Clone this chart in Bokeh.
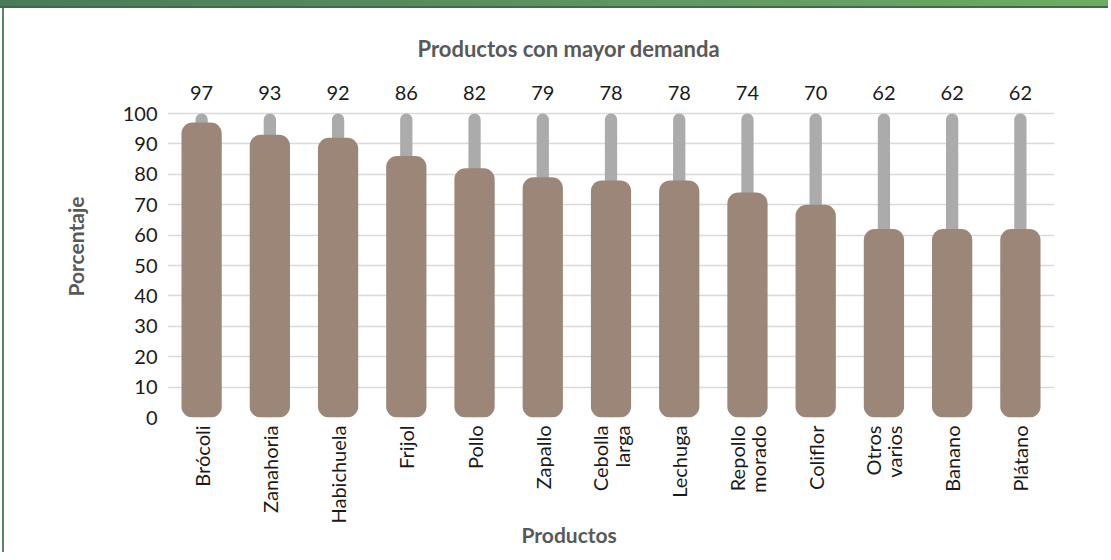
import math
from bokeh.plotting import figure
from bokeh.models import (ColumnDataSource, FactorRange, Range1d, FixedTicker, Title, Div)
from bokeh.layouts import column
from bokeh.core.properties import value
from bokeh.embed import file_html
from bokeh.resources import INLINE

# ---- data ----
productos = ["Brócoli", "Zanahoria", "Habichuela", "Frijol", "Pollo", "Zapallo",
             "Cebolla\nlarga", "Lechuga", "Repollo\nmorado", "Coliflor",
             "Otros\nvarios", "Banano", "Plátano"]
porcentaje = [97, 93, 92, 86, 82, 79, 78, 78, 74, 70, 62, 62, 62]
maximo = [100] * len(productos)
y_ticks = [0, 10, 20, 30, 40, 50, 60, 70, 80, 90, 100]

titulo = "Productos con mayor demanda"
eje_x = "Productos"
eje_y = "Porcentaje"

FONT = "Lato"
src = ColumnDataSource(dict(x=productos, y=porcentaje, top=maximo,
                            lbl=[str(v) for v in porcentaje]))

p = figure(x_range=FactorRange(*productos, range_padding=0),
           y_range=Range1d(0, 112.5),
           frame_width=887, frame_height=342,
           output_backend="svg", toolbar_location=None,
           min_border_left=175, min_border_right=49, min_border_top=62,
           min_border_bottom=135)
p.outline_line_color = None
p.background_fill_color = "white"
p.border_fill_color = None

# background gray bars (to 100)
p.vbar(x="x", top="top", bottom=0, width=0.18, source=src, fill_color="#ababab",
       line_color=None, border_radius=6)
# main bars
p.vbar(x="x", top="y", bottom=0, width=0.59, source=src, fill_color="#9c8678",
       line_color=None, border_radius=11)
# value labels above
p.text(x="x", y="top", text="lbl", source=src, y_offset=-21,
       text_align="center", text_baseline="middle", text_font=value(FONT),
       text_font_size="20px", text_color="#1a1a1a")

# axes
p.yaxis.ticker = FixedTicker(ticks=y_ticks)
p.ygrid.ticker = FixedTicker(ticks=y_ticks)
p.ygrid.grid_line_color = "#d9d9d9"
p.ygrid.grid_line_width = 1.5
p.xgrid.grid_line_color = None
for ax in (p.xaxis, p.yaxis):
    ax.axis_line_color = None
    ax.major_tick_line_color = None
    ax.minor_tick_line_color = None
    ax.major_label_text_font = FONT
    ax.major_label_text_color = "#1a1a1a"
p.yaxis.major_label_text_font_size = "20px"
p.xaxis.major_label_text_font_size = "20px"
p.yaxis.major_label_standoff = 4
p.xaxis.major_label_orientation = math.pi / 2
p.xaxis.major_label_standoff = 2
p.xaxis.major_label_text_line_height = 0.88

# y axis title
p.yaxis.axis_label = eje_y
p.yaxis.axis_label_text_font = FONT
p.yaxis.axis_label_text_font_size = "21px"
p.yaxis.axis_label_text_font_style = "bold"
p.yaxis.axis_label_text_color = "#595959"
p.yaxis.axis_label_standoff = 32

# chart title
p.title.text = titulo
p.title.align = "left"
p.title.offset = 250
p.title.text_font = FONT
p.title.text_font_size = "22px"
p.title.text_font_style = "bold"
p.title.text_color = "#595959"
p.title.standoff = 27

# x axis title
p.add_layout(Title(text=eje_x, align="left", offset=354, text_font=FONT,
                   text_font_size="21px", text_font_style="bold",
                   text_color="#595959", standoff=-40), "below")

header = Div(text="", width=1111, height=11, styles={
    "background": "linear-gradient(to bottom, rgba(0,0,0,0) 9px, #3d6b4b 9px), "
                  "linear-gradient(to right, #487a58, #5f9860 60%, #6dac62)"})

layout = column(header, p, spacing=0, styles={
    "margin-top": "-8px", "margin-left": "-8px",
    "background": "linear-gradient(to right, white 10px, #55866a 10px, #55866a 12px, white 12px)"})

open("out.html", "w").write(file_html(layout, INLINE))
